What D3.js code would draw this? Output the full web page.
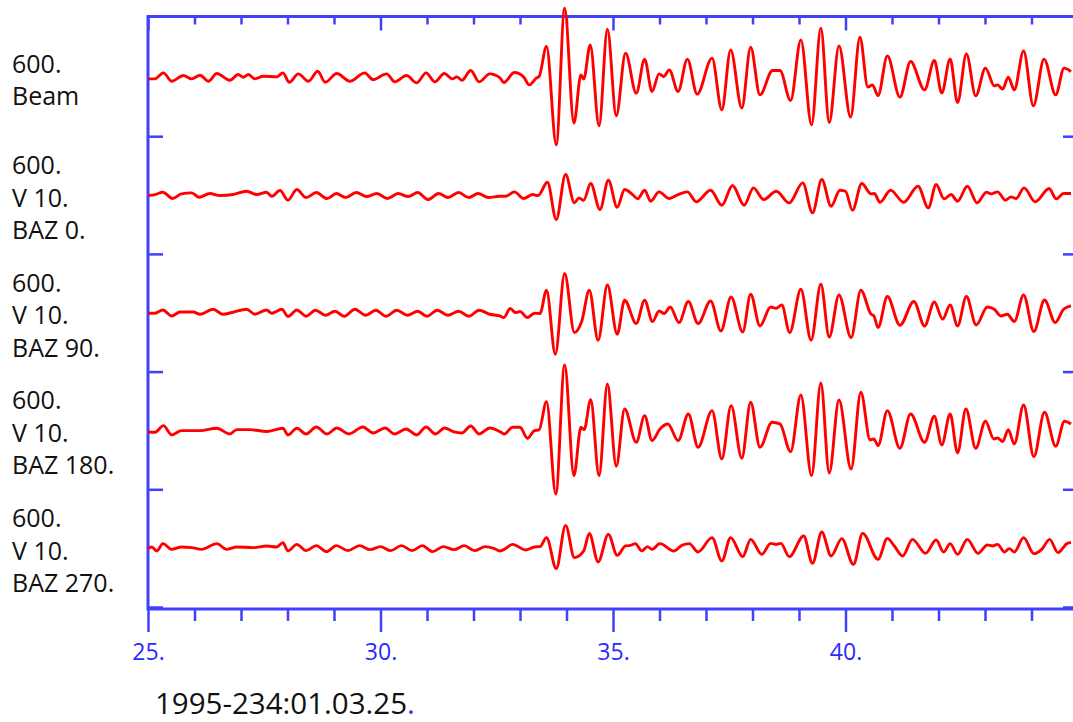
<!DOCTYPE html>
<html>
<head>
<meta charset="utf-8">
<script src="https://cdn.jsdelivr.net/npm/d3@7"></script>
<style>
  body { margin: 0; background: #fff; }
  svg { display: block; }
</style>
</head>
<body>
<div id="chart"></div>
<script>
// traces: [time (s), amplitude] at peaks/troughs
const beam = [[25.01,-1],[25.15,-1],[25.33,5],[25.51,-3.4],[25.76,2.3],[25.94,-1],[26.12,2.6],[26.30,-3.4],[26.48,4.3],[26.76,-2.4],[26.94,3.3],[27.05,0.6],[27.16,3.3],[27.30,-1],[27.48,1.6],[27.77,1],[27.90,5],[28.04,-4.4],[28.23,4],[28.45,-3.4],[28.65,6.6],[28.81,-4.4],[29.06,4.3],[29.34,-3.4],[29.66,5],[29.84,-1.7],[30.13,4],[30.31,-4],[30.56,2.3],[30.78,-5],[30.98,5],[31.17,-4],[31.37,4.3],[31.55,-1],[31.64,1],[31.75,-2.4],[31.94,7.3],[32.12,-4],[32.35,4],
  [32.57,0],[32.65,-4.7],[32.88,5.3],[33.08,0.7],[33.20,-7],[33.35,-0.3],[33.41,1.3],[33.57,31.3],[33.78,-67],[33.96,69.7],[34.16,-45.3],[34.31,3],[34.37,-1.3],[34.51,33],[34.70,-48],[34.88,48.7],[35.07,-38],[35.27,24.7],[35.50,-15.3],[35.68,18.7],[35.84,-13.7],[35.99,4],[36.09,1.3],[36.21,8],[36.40,-13.7],[36.60,18.7],[36.81,-16.3],[37.13,19.7],[37.34,-32],[37.53,28],[37.77,-30.3],[37.96,30.7],[38.16,-17],[38.43,7.3],[38.59,7.3],[38.82,-22.7],[39.04,38],[39.27,-47],[39.47,49.7],[39.65,-44.7],[39.86,32],[40.11,-39.3],[40.31,40.7],[40.48,-9.3],[40.58,-7],[40.70,-17.7],[40.90,22],[41.17,-19.3],[41.40,16.3],[41.70,-12],[41.91,17.3],[42.07,-15.3],[42.25,19],[42.41,-24.7],[42.60,24],[42.80,-18],[43.01,9.7],[43.20,-8],[43.27,-7],[43.38,-11.3],[43.50,0.7],[43.63,-12],[43.83,27],[44.04,-28],[44.27,18.7],[44.52,-17],[44.70,9.7],[44.85,6.3]];

const baz0 = [[25.0,0],[25.15,1],[25.32,3.3],[25.53,-3],[25.72,1.7],[25.94,2.7],[26.10,-1.7],[26.33,2],[26.55,0],[26.83,1],[27.12,4.3],[27.34,1],[27.55,3.3],[27.66,-0.7],[27.84,5],[28.01,-4.7],[28.20,6],
  [28.40,-2],[28.62,3],[28.85,-3],[29.05,2],[29.25,-2],[29.48,3],[29.70,-1],[29.92,2],[30.15,-3],[30.38,2],[30.60,-1],[30.80,3],[31.02,-4],[31.25,2],[31.45,-2],[31.68,3],[31.90,-2],[32.10,2],[32.32,-2],
  [32.57,-0.7],[32.69,-0.7],[32.88,3.7],[33.08,-3],[33.27,1],[33.39,0],[33.59,13.3],[33.78,-24],[33.98,21],[34.17,-7.3],[34.27,-2.3],[34.37,-4.7],[34.52,12],[34.72,-14],[34.90,15.3],[35.09,-11.7],[35.25,6],[35.42,1],[35.53,-3.3],[35.68,5.3],[35.81,-5.7],[35.99,3.7],[36.21,-3],[36.40,1],[36.60,3.7],[36.79,-6.3],[37.10,5.3],[37.34,-9.7],[37.57,10],[37.82,-9.7],[38.02,7.7],[38.24,-4],[38.51,4.3],[38.79,-7.3],[39.08,12.7],[39.29,-17.3],[39.49,16],[39.69,-10.7],[39.88,5.3],[40.00,4.3],[40.15,-14.7],[40.35,12],[40.55,1.7],[40.62,2],[40.74,-6.7],[40.97,5.3],[41.25,-6.7],[41.56,9.3],[41.78,-12.3],[41.95,11],[42.12,-3.3],[42.27,1],[42.41,-5.7],[42.62,9.3],[42.83,-7.3],[43.03,3.3],[43.13,1.7],[43.27,3.7],[43.44,-4.7],[43.56,-1.3],[43.67,-3],[43.84,7.7],[44.08,-6.3],[44.38,7],[44.53,-3.3],[44.69,2],[44.85,2]];

const baz90 = [[25.0,0],[25.15,0],[25.32,3.3],[25.51,-2.7],[25.69,1.3],[25.97,1.3],[26.12,-1],[26.40,4],[26.61,-1],[26.83,1],[27.12,4],[27.30,-1],[27.55,3.3],[27.66,0],[27.88,4],[28.01,-3.3],[28.20,3.3],
  [28.40,-3],[28.60,3],[28.82,-2],[29.02,2],[29.22,-3],[29.45,4],[29.68,-2],[29.90,3],[30.12,-3],[30.35,3],[30.58,-2],[30.80,2],[31.00,-3],[31.22,3],[31.45,-2],[31.68,2],[31.90,-3],[32.12,3],[32.35,-1],
  [32.57,-2.7],[32.65,-4.3],[32.79,4.7],[32.90,0.7],[33.00,1.7],[33.16,-4.3],[33.31,0],[33.43,-0.3],[33.57,23],[33.76,-41],[33.96,39.7],[34.17,-19.3],[34.33,-7.7],[34.49,23],[34.68,-27],[34.88,28.3],[35.09,-21],[35.25,13],[35.50,-10.3],[35.68,13],[35.85,-8.3],[35.99,2.3],[36.10,-0.3],[36.23,6.3],[36.42,-9.3],[36.62,11.7],[36.83,-10.3],[37.10,12.3],[37.32,-17.7],[37.54,16.3],[37.79,-18.7],[37.96,19],[38.16,-12.7],[38.39,6.3],[38.51,5],[38.63,8.3],[38.80,-19.3],[39.04,24],[39.26,-27],[39.47,29],[39.65,-23.7],[39.86,18.3],[40.12,-24.3],[40.33,23],[40.55,-1],[40.61,-2.7],[40.70,-14.3],[40.90,16.7],[41.17,-12],[41.47,11.7],[41.70,-12.7],[41.91,11.3],[42.09,-6],[42.25,8.3],[42.41,-12.7],[42.60,16.7],[42.81,-11.7],[43.05,6.3],[43.20,4],[43.34,-2.7],[43.48,-1],[43.63,-8.3],[43.83,18.3],[44.05,-18.3],[44.28,13.3],[44.51,-9.3],[44.69,4],[44.85,7.3]];

const baz180 = [[25.0,-1],[25.15,-1.3],[25.33,5.3],[25.51,-4],[25.72,0.3],[26.12,0.3],[26.48,2.7],[26.76,-3],[26.91,1.3],[27.19,1.3],[27.55,-0.5],[27.90,2.7],[28.01,-4],[28.20,2.7],
  [28.40,-3],[28.62,4],[28.85,-3],[29.06,3],[29.32,-3],[29.62,4],[29.84,-2],[30.10,3],[30.30,-3],[30.55,2],[30.78,-4],[30.98,4],[31.18,-3],[31.38,3],[31.58,-1],[31.75,-2],[31.94,5],[32.12,-3],[32.35,3],
  [32.57,-0.7],[32.66,-3],[32.84,3.7],[33.00,3.7],[33.16,-7.3],[33.31,0.3],[33.41,1],[33.57,29.3],[33.77,-63],[33.96,66],[34.16,-44.7],[34.31,3.7],[34.38,1.3],[34.52,31.3],[34.70,-44.7],[34.88,47],[35.07,-35.3],[35.25,22],[35.50,-11.3],[35.68,15.3],[35.84,-9.7],[36.01,2],[36.18,7],[36.40,-9.7],[36.62,17],[36.83,-16.3],[37.13,20.3],[37.34,-28],[37.54,25.3],[37.77,-27.3],[37.96,28.7],[38.16,-16.3],[38.42,8.7],[38.59,7],[38.82,-20.7],[39.04,36],[39.27,-44.7],[39.47,48],[39.65,-42],[39.86,31],[40.12,-38],[40.33,38.7],[40.53,-9],[40.61,-8],[40.70,-14.7],[40.90,20.3],[41.17,-17.3],[41.40,17],[41.70,-11.3],[41.91,14.7],[42.07,-14],[42.25,17],[42.41,-22],[42.59,22],[42.80,-17.3],[43.01,9.7],[43.19,-8],[43.27,-7],[43.38,-10.7],[43.50,1.3],[43.63,-13],[43.83,26],[44.05,-25.7],[44.28,18.7],[44.52,-15.3],[44.71,9.7],[44.85,7]];

const baz270 = [[25.0,0],[25.08,1.7],[25.19,-2.3],[25.32,5],[25.51,-0.7],[25.72,1.7],[25.94,1],[26.15,-0.7],[26.48,5],[26.69,-0.7],[26.91,1.7],[27.26,1],[27.55,2.7],[27.77,1.7],[27.90,6],[28.01,-2.3],[28.20,4.3],
  [28.40,-2],[28.62,3],[28.84,-3],[29.05,3],[29.30,-2],[29.55,3],[29.78,-1],[30.00,2],[30.22,-2],[30.45,3],[30.68,-2],[30.90,3],[31.12,-3],[31.35,2],[31.58,-1],[31.80,3],[32.02,-2],[32.25,2],[32.45,0],
  [32.57,-2.3],[32.66,-0.7],[32.84,4.3],[33.12,-1.3],[33.31,1.7],[33.43,2],[33.57,11],[33.78,-20],[33.98,23.3],[34.17,-9],[34.37,-2.3],[34.49,15.3],[34.68,-13.3],[34.90,14.3],[35.09,-6.7],[35.27,2.7],[35.38,3.3],[35.48,5],[35.62,-2.3],[35.74,2],[35.84,-0.7],[36.01,5],[36.31,-2.3],[36.48,3.3],[36.64,5],[36.83,-3.3],[37.13,11],[37.34,-12.3],[37.53,11],[37.79,-8],[37.96,9.3],[38.20,-5.7],[38.39,5.3],[38.51,4.3],[38.61,5.3],[38.79,-8],[39.10,12.7],[39.29,-14.7],[39.49,16.7],[39.69,-7.3],[39.92,10],[40.17,-15.7],[40.37,15.3],[40.70,-10.7],[40.90,10.3],[41.05,2.7],[41.23,-7.3],[41.44,9.3],[41.72,-4.7],[41.95,8.7],[42.11,-3.3],[42.25,5],[42.41,-5.7],[42.62,9.3],[42.85,-4.7],[43.05,3.7],[43.16,2.7],[43.27,4.3],[43.42,-3.3],[43.52,0],[43.63,-3.3],[43.83,11],[44.05,-5],[44.22,-0.7],[44.39,9.3],[44.57,-4],[44.77,5.3],[44.85,6]];

const traces = [beam, baz0, baz90, baz180, baz270];
const scaleLabels = ["600.", "600.", "600.", "600.", "600."];
const traceNames = [["Beam"], ["V 10.", "BAZ 0."], ["V 10.", "BAZ 90."], ["V 10.", "BAZ 180."], ["V 10.", "BAZ 270."]];
const majorTicks = [25, 30, 35, 40, 45];
const labelledTicks = [25, 30, 35, 40];
const minorTicks = d3.range(26, 45).filter(d => d % 5 !== 0);
const timeLabel = "1995-234:01.03.25";

const width = 1073;
const height = 722;
const blue = "#4040ff";
const labelBlue = "#2a2aff";
const red = "#ff0000";

const frame = { left: 148, right: 1078, top: 16.5, bottom: 609 };
const panelTop = 19;
const panelBottom = 607.5;
const panelH = (panelBottom - panelTop) / traces.length;

const svg = d3.select("#chart")
    .append("svg")
    .attr("width", width)
    .attr("height", height)
    .attr("viewBox", `0 0 ${width} ${height}`);

const x = d3.scaleLinear()
    .domain([25, 45])
    .range([frame.left, frame.right]);

// amplitude scale: one unit ~ one pixel, centred in each panel
const y = d3.scaleLinear()
    .domain([-panelH / 2, panelH / 2])
    .range([panelH, 0]);

const line = d3.line()
    .x(d => x(d[0]))
    .y(d => y(d[1]))
    .curve(d3.curveMonotoneX);

// axes
const axisStyle = g => {
    g.select(".domain").remove();
    g.selectAll(".tick line").attr("stroke", blue).attr("stroke-width", 2.5);
    g.selectAll(".tick text")
        .attr("fill", labelBlue)
        .style("font-family", "'Open Sans', sans-serif")
        .style("font-size", "23px");
};

svg.append("g")
    .attr("transform", `translate(0,${frame.bottom})`)
    .call(d3.axisBottom(x).tickValues(minorTicks).tickSize(12).tickFormat(""))
    .call(axisStyle);

svg.append("g")
    .attr("transform", `translate(0,${frame.bottom})`)
    .call(d3.axisBottom(x).tickValues(majorTicks).tickSize(23).tickPadding(12)
        .tickFormat(d => labelledTicks.includes(d) ? d + "." : ""))
    .call(axisStyle);

svg.append("g")
    .attr("transform", `translate(0,${frame.top})`)
    .call(d3.axisBottom(x).tickValues(minorTicks).tickSize(8).tickFormat(""))
    .call(axisStyle);

svg.append("g")
    .attr("transform", `translate(0,${frame.top})`)
    .call(d3.axisBottom(x).tickValues(majorTicks).tickSize(14).tickFormat(""))
    .call(axisStyle);

// panel separator ticks on left and right edges
const seps = d3.range(1, traces.length + 1).map(i => panelTop + i * panelH);
svg.selectAll(".sep-left")
    .data(seps)
    .join("line")
        .attr("class", "sep-left")
        .attr("x1", frame.left)
        .attr("x2", frame.left + 15)
        .attr("y1", d => d)
        .attr("y2", d => d)
        .attr("stroke", blue)
        .attr("stroke-width", 2.5);

svg.selectAll(".sep-right")
    .data(seps)
    .join("line")
        .attr("class", "sep-right")
        .attr("x1", frame.right - 15)
        .attr("x2", frame.right)
        .attr("y1", d => d)
        .attr("y2", d => d)
        .attr("stroke", blue)
        .attr("stroke-width", 2.5);

svg.append("rect")
    .attr("x", frame.left)
    .attr("y", frame.top)
    .attr("width", frame.right - frame.left)
    .attr("height", frame.bottom - frame.top)
    .attr("fill", "none")
    .attr("stroke", blue)
    .attr("stroke-width", 3);

// traces
const panels = svg.selectAll(".panel")
    .data(traces)
    .join("g")
        .attr("class", "panel")
        .attr("transform", (d, i) => `translate(0,${panelTop + i * panelH})`);

panels.append("path")
    .attr("d", d => line(d))
    .attr("fill", "none")
    .attr("stroke", red)
    .attr("stroke-width", 2.9)
    .attr("stroke-linejoin", "round");

// labels at left
const lineH = 32.5;
const labels = svg.selectAll(".trace-label")
    .data(traces.map((d, i) => [scaleLabels[i]].concat(traceNames[i])))
    .join("text")
        .attr("class", "trace-label")
        .attr("x", 12)
        .attr("y", (d, i) => panelTop + (i + 0.5) * panelH + 11 - (d.length - 1) / 2 * lineH)
        .style("font-family", "'Open Sans', sans-serif")
        .style("font-size", "25px")
        .attr("fill", "#111");

labels.selectAll("tspan")
    .data(d => d)
    .join("tspan")
        .attr("x", 12)
        .attr("dy", (d, i) => i === 0 ? 0 : lineH)
        .text(d => d);

// reference time under the axis
const stamp = svg.append("text")
    .attr("x", 155)
    .attr("y", 714)
    .style("font-family", "'Open Sans', sans-serif")
    .style("font-size", "29.5px")
    .attr("fill", "#111");
stamp.append("tspan").text(timeLabel);
stamp.append("tspan").attr("fill", labelBlue).text(".");
</script>
</body>
</html>
